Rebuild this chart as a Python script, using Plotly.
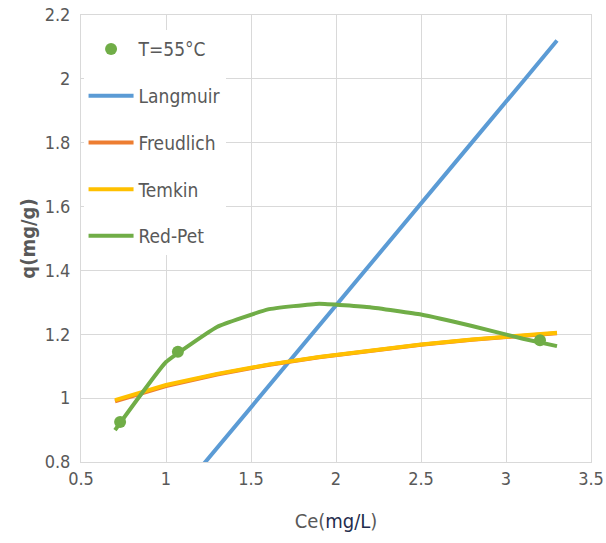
import plotly.graph_objects as go

# Equilibrium concentration grid used for the model curves
ce_model = [0.7, 1.0, 1.3, 1.6, 1.9, 2.2, 2.5, 2.8, 3.1, 3.3]

# Model predictions q (mg/g)
q_langmuir = [0.461, 0.653, 0.844, 1.035, 1.227, 1.418, 1.610, 1.801, 1.992, 2.120]
q_freundlich = [0.990, 1.038, 1.074, 1.104, 1.128, 1.149, 1.167, 1.183, 1.196, 1.203]
q_temkin = [0.994, 1.041, 1.076, 1.105, 1.129, 1.150, 1.168, 1.184, 1.197, 1.205]
q_redpet = [0.900, 1.113, 1.223, 1.278, 1.296, 1.285, 1.262, 1.226, 1.186, 1.163]

# Experimental data at 55 °C
ce_exp = [0.73, 1.07, 3.20]
q_exp = [0.925, 1.145, 1.181]

FONT = "Liberation Sans Narrow, Arial Narrow, DejaVu Sans Condensed, sans-serif"
GRID = "#D9D9D9"
TEXT = "#595959"

fig = go.Figure()

fig.add_trace(go.Scatter(x=ce_model, y=q_langmuir, mode="lines", name="Langmuir",
                         line=dict(color="#5B9BD5", width=4), legendgroup="b", legendrank=2))
fig.add_trace(go.Scatter(x=ce_model, y=q_freundlich, mode="lines", name="Freudlich",
                         line=dict(color="#ED7D31", width=4), legendgroup="c", legendrank=3))
fig.add_trace(go.Scatter(x=ce_model, y=q_temkin, mode="lines", name="Temkin",
                         line=dict(color="#FFC000", width=4), legendgroup="d", legendrank=4))
fig.add_trace(go.Scatter(x=ce_model, y=q_redpet, mode="lines", name="Red-Pet",
                         line=dict(color="#70AD47", width=4, shape="spline", smoothing=0.3),
                         legendgroup="e", legendrank=5))
fig.add_trace(go.Scatter(x=ce_exp, y=q_exp, mode="markers", name="T=55°C",
                         marker=dict(color="#70AD47", size=12), legendgroup="a", legendrank=1))

fig.update_layout(
    width=606, height=543,
    margin=dict(l=81, r=15, t=15, b=81),
    paper_bgcolor="white", plot_bgcolor="white",
    font=dict(family=FONT, size=18, color=TEXT),
    showlegend=True,
    legend=dict(x=0.005, y=0.966, xanchor="left", yanchor="top",
                bgcolor="white", tracegroupgap=19, itemwidth=45,
                font=dict(family=FONT, size=19, color=TEXT)),
    xaxis=dict(range=[0.5, 3.5], dtick=0.5, showgrid=True, gridcolor=GRID, gridwidth=1,
               showline=True, linecolor=GRID, linewidth=1, mirror=True, zeroline=False,
               automargin=False,
               ticks="", tickfont=dict(size=18, color=TEXT),
               title=dict(text="Ce(<span style='color:#1F2D4D'>mg/L</span>)",
                          font=dict(size=20, color=TEXT), standoff=26)),
    yaxis=dict(range=[0.8, 2.2], dtick=0.2, showgrid=True, gridcolor=GRID, gridwidth=1,
               showline=True, linecolor=GRID, linewidth=1, mirror=True, zeroline=False,
               automargin=False,
               ticks="", tickfont=dict(size=18, color=TEXT), ticklabelstandoff=6,
               title=dict(text="<b>q(mg/g)</b>", font=dict(size=20, color=TEXT), standoff=3)),
)

fig.write_html("out.html")
